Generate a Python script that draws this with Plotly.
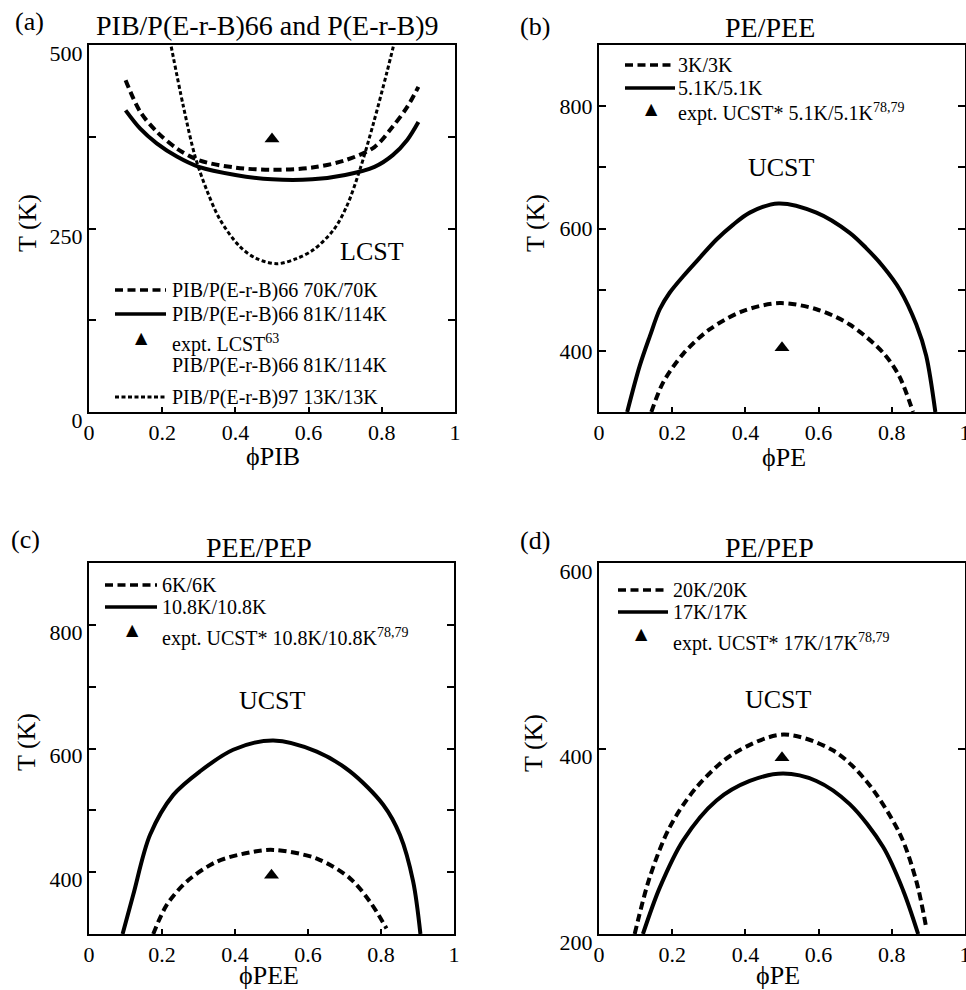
import plotly.graph_objects as go

W, H = 966, 990
SERIF = "Liberation Serif"

# ---- (a) PIB/P(E-r-B) blends: LCST spinodals ----
A_PHI = [0.10, 0.14, 0.185, 0.24, 0.30, 0.40, 0.50, 0.61, 0.70, 0.78, 0.83, 0.87, 0.90]
A_T_70K = [452, 409, 382, 359, 343, 333, 330, 333, 343, 361, 389, 416, 443]
A_T_81K = [411, 386, 366, 348, 334, 323, 317, 317, 323, 334, 350, 371, 395]
A_PHI_13K = [0.221, 0.258, 0.29, 0.322, 0.358, 0.413, 0.458, 0.513, 0.567, 0.613,
             0.668, 0.704, 0.74, 0.777, 0.813, 0.836]
A_T_13K = [507, 416, 348, 302, 262, 225, 209, 202, 209, 221, 248, 280, 330, 393, 461, 507]
A_EXPT = ([0.50], [372])

# ---- (b) PE/PEE: UCST ----
B_PHI_3K = [0.143, 0.175, 0.23, 0.302, 0.393, 0.494, 0.594, 0.685, 0.776, 0.82, 0.858]
B_T_3K = [300, 348, 395, 435, 465, 478, 468, 443, 397, 359, 300]
B_PHI_51K = [0.077, 0.111, 0.139, 0.166, 0.193, 0.23, 0.275, 0.321, 0.366, 0.412, 0.49,
             0.594, 0.685, 0.73, 0.776, 0.822, 0.867, 0.894, 0.919]
B_T_51K = [300, 375, 424, 468, 495, 522, 552, 582, 606, 626, 641,
           626, 593, 568, 538, 500, 443, 392, 300]
B_EXPT = ([0.50], [405])

# ---- (c) PEE/PEP: UCST ----
C_PHI_6K = [0.176, 0.213, 0.268, 0.35, 0.441, 0.505, 0.624, 0.715, 0.77, 0.815]
C_T_6K = [300, 347, 385, 417, 432, 436, 422, 390, 352, 309]
C_PHI_108K = [0.092, 0.121, 0.167, 0.231, 0.304, 0.395, 0.505, 0.624, 0.715, 0.806,
              0.852, 0.888, 0.908]
C_T_108K = [300, 363, 460, 525, 563, 598, 613, 595, 563, 509, 460, 385, 300]
C_EXPT = ([0.50], [395])

# ---- (d) PE/PEP: UCST ----
D_PHI_20K = [0.0975, 0.1385, 0.193, 0.266, 0.366, 0.503, 0.639, 0.73, 0.822, 0.867, 0.894]
D_T_20K = [200, 261, 315, 358, 394, 415, 398, 365, 308, 257, 207]
D_PHI_17K = [0.12, 0.166, 0.23, 0.321, 0.412, 0.503, 0.594, 0.685, 0.776, 0.831, 0.872]
D_T_17K = [200, 250, 301, 344, 365, 373, 365, 340, 294, 247, 200]
D_EXPT = ([0.50], [390])

X_TICKS = [0, 0.2, 0.4, 0.6, 0.8, 1]
X_TICKTEXT = ["0", "0.2", "0.4", "0.6", "0.8", "1"]

DASH = "8px,4.5px"
DOT = "4px,2.5px"
LW = 4


def px(x):
    return x / W


def py(y):
    return 1 - y / H


fig = go.Figure()


def curve(xs, ys, dash, ax, width=LW):
    fig.add_trace(go.Scatter(
        x=xs, y=ys, mode="lines", xaxis=ax[0], yaxis=ax[1],
        line=dict(color="black", width=width, dash=dash, shape="spline", smoothing=0.9),
        showlegend=False, hoverinfo="skip"))


def expt(pt, ax):
    fig.add_trace(go.Scatter(
        x=pt[0], y=pt[1], mode="markers", xaxis=ax[0], yaxis=ax[1],
        marker=dict(symbol="triangle-up", size=13, color="black"),
        showlegend=False, hoverinfo="skip"))


A = ("x", "y")
B = ("x2", "y2")
C = ("x3", "y3")
D = ("x4", "y4")

curve(A_PHI, A_T_70K, DASH, A)
curve(A_PHI, A_T_81K, "solid", A)
curve(A_PHI_13K, A_T_13K, DOT, A, 3)
expt(A_EXPT, A)

curve(B_PHI_3K, B_T_3K, DASH, B)
curve(B_PHI_51K, B_T_51K, "solid", B)
expt(B_EXPT, B)

curve(C_PHI_6K, C_T_6K, DASH, C)
curve(C_PHI_108K, C_T_108K, "solid", C)
expt(C_EXPT, C)

curve(D_PHI_20K, D_T_20K, DASH, D)
curve(D_PHI_17K, D_T_17K, "solid", D)
expt(D_EXPT, D)

tickfont = dict(family=SERIF, size=22, color="black")


def xaxis(domain, anchor):
    return dict(domain=domain, anchor=anchor, range=[0, 1], tickvals=X_TICKS,
                ticktext=X_TICKTEXT, ticks="inside", ticklen=5, tickwidth=1.5,
                tickcolor="black", showline=True, linewidth=2, linecolor="black",
                mirror=True, showgrid=False, zeroline=False, tickfont=tickfont,
                ticklabeloverflow="allow", fixedrange=True)


def yaxis(domain, anchor, rng, vals, text, shift):
    return dict(domain=domain, anchor=anchor, range=rng, tickvals=vals, ticktext=text,
                ticks="inside", ticklen=7, tickwidth=1.5, tickcolor="black",
                showline=True, linewidth=2, linecolor="black", mirror="ticks",
                showgrid=False, zeroline=False, tickfont=tickfont,
                ticklabelshift=shift, ticklabeloverflow="allow", fixedrange=True)


XA = [px(89), px(455)]
XB = [px(599), px(965)]
XC = [px(89), px(454)]
YTOP = [py(412), py(45)]
YBOT = [py(934), py(563)]

fig.update_layout(
    template="none",
    width=W, height=H, autosize=False,
    margin=dict(l=0, r=0, t=0, b=0, pad=0),
    paper_bgcolor="white", plot_bgcolor="white",
    font=dict(family=SERIF, size=22, color="black"),
    xaxis=xaxis(XA, "y"),
    yaxis=yaxis(YTOP, "x", [0, 500], [0, 125, 250, 375, 500],
                ["0", "", "250", "", "500"], 8),
    xaxis2=xaxis(XB, "y2"),
    yaxis2=yaxis(YTOP, "x2", [300, 900], [300, 400, 500, 600, 700, 800, 900],
                 ["", "400", "", "600", "", "800", ""], 0),
    xaxis3=xaxis(XC, "y3"),
    yaxis3=yaxis(YBOT, "x3", [300, 900], [300, 400, 500, 600, 700, 800, 900],
                 ["", "400", "", "600", "", "800", ""], 7),
    xaxis4=xaxis(XB, "y4"),
    yaxis4=yaxis(YBOT, "x4", [200, 600], [200, 400, 600],
                 ["200", "400", "600"], 8),
)

annotations = []
shapes = []


def text(x, y, s, size, xanchor="center", textangle=0):
    annotations.append(dict(
        x=px(x), y=py(y), xref="paper", yref="paper", text=s, showarrow=False,
        xanchor=xanchor, yanchor="middle", textangle=textangle,
        font=dict(family=SERIF, size=size, color="black")))


def sample(x0, x1, y, dash, width=3.5):
    shapes.append(dict(type="line", xref="paper", yref="paper",
                       x0=px(x0), x1=px(x1), y0=py(y), y1=py(y),
                       line=dict(color="black", width=width, dash=dash)))


def tri(x, y):
    annotations.append(dict(
        x=px(x), y=py(y), xref="paper", yref="paper", text="▲", showarrow=False,
        xanchor="center", yanchor="middle",
        font=dict(family="DejaVu Sans", size=16, color="black")))


# panel letters
text(29, 21, "(a)", 26)
text(535, 27, "(b)", 26)
text(25, 539, "(c)", 26)
text(535, 540, "(d)", 26)

# panel titles
text(267, 25, "PIB/P(E-r-B)66 and P(E-r-B)9", 28)
text(770, 28, "PE/PEE", 28)
text(259, 547, "PEE/PEP", 28)
text(769, 547, "PE/PEP", 28)

# axis titles
text(273, 456, "ϕPIB", 26)
text(784, 457, "ϕPE", 26)
text(269, 975, "ϕPEE", 26)
text(778, 975, "ϕPE", 26)
text(27, 223, "T (K)", 26, textangle=-90)
text(535, 223, "T (K)", 26, textangle=-90)
text(26, 742, "T (K)", 26, textangle=-90)
text(533, 743, "T (K)", 26, textangle=-90)

# region labels
text(372, 252, "LCST", 26)
text(781, 168, "UCST", 26)
text(272, 700, "UCST", 26)
text(778, 699, "UCST", 26)

LEG = 20
# legend (a)
sample(115, 166, 290, DASH)
text(170, 290, "PIB/P(E-r-B)66 70K/70K", LEG, "left")
sample(115, 166, 314, "solid")
text(170, 314, "PIB/P(E-r-B)66 81K/114K", LEG, "left")
tri(141, 337)
text(170, 343, "expt. LCST<sup>63</sup>", LEG, "left")
text(170, 365, "PIB/P(E-r-B)66 81K/114K", LEG, "left")
sample(115, 166, 397, DOT, 3)
text(170, 397, "PIB/P(E-r-B)97 13K/13K", LEG, "left")

# legend (b)
sample(625, 675, 65, DASH)
text(676, 65, "3K/3K", LEG, "left")
sample(625, 675, 88, "solid")
text(676, 88, "5.1K/5.1K", LEG, "left")
tri(651, 108)
text(676, 113, "expt. UCST* 5.1K/5.1K<sup>78,79</sup>", LEG, "left")

# legend (c)
sample(105, 157, 585, DASH)
text(160, 585, "6K/6K", LEG, "left")
sample(105, 157, 607, "solid")
text(160, 607, "10.8K/10.8K", LEG, "left")
tri(132, 629)
text(160, 637, "expt. UCST* 10.8K/10.8K<sup>78,79</sup>", LEG, "left")

# legend (d)
sample(618, 668, 590, DASH)
text(671, 590, "20K/20K", LEG, "left")
sample(618, 668, 612, "solid")
text(671, 612, "17K/17K", LEG, "left")
tri(641, 633)
text(671, 642, "expt. UCST* 17K/17K<sup>78,79</sup>", LEG, "left")

fig.update_layout(annotations=annotations, shapes=shapes)

fig.write_html("out.html", config={"displayModeBar": False},
               post_script="document.body.style.margin = '0';")
